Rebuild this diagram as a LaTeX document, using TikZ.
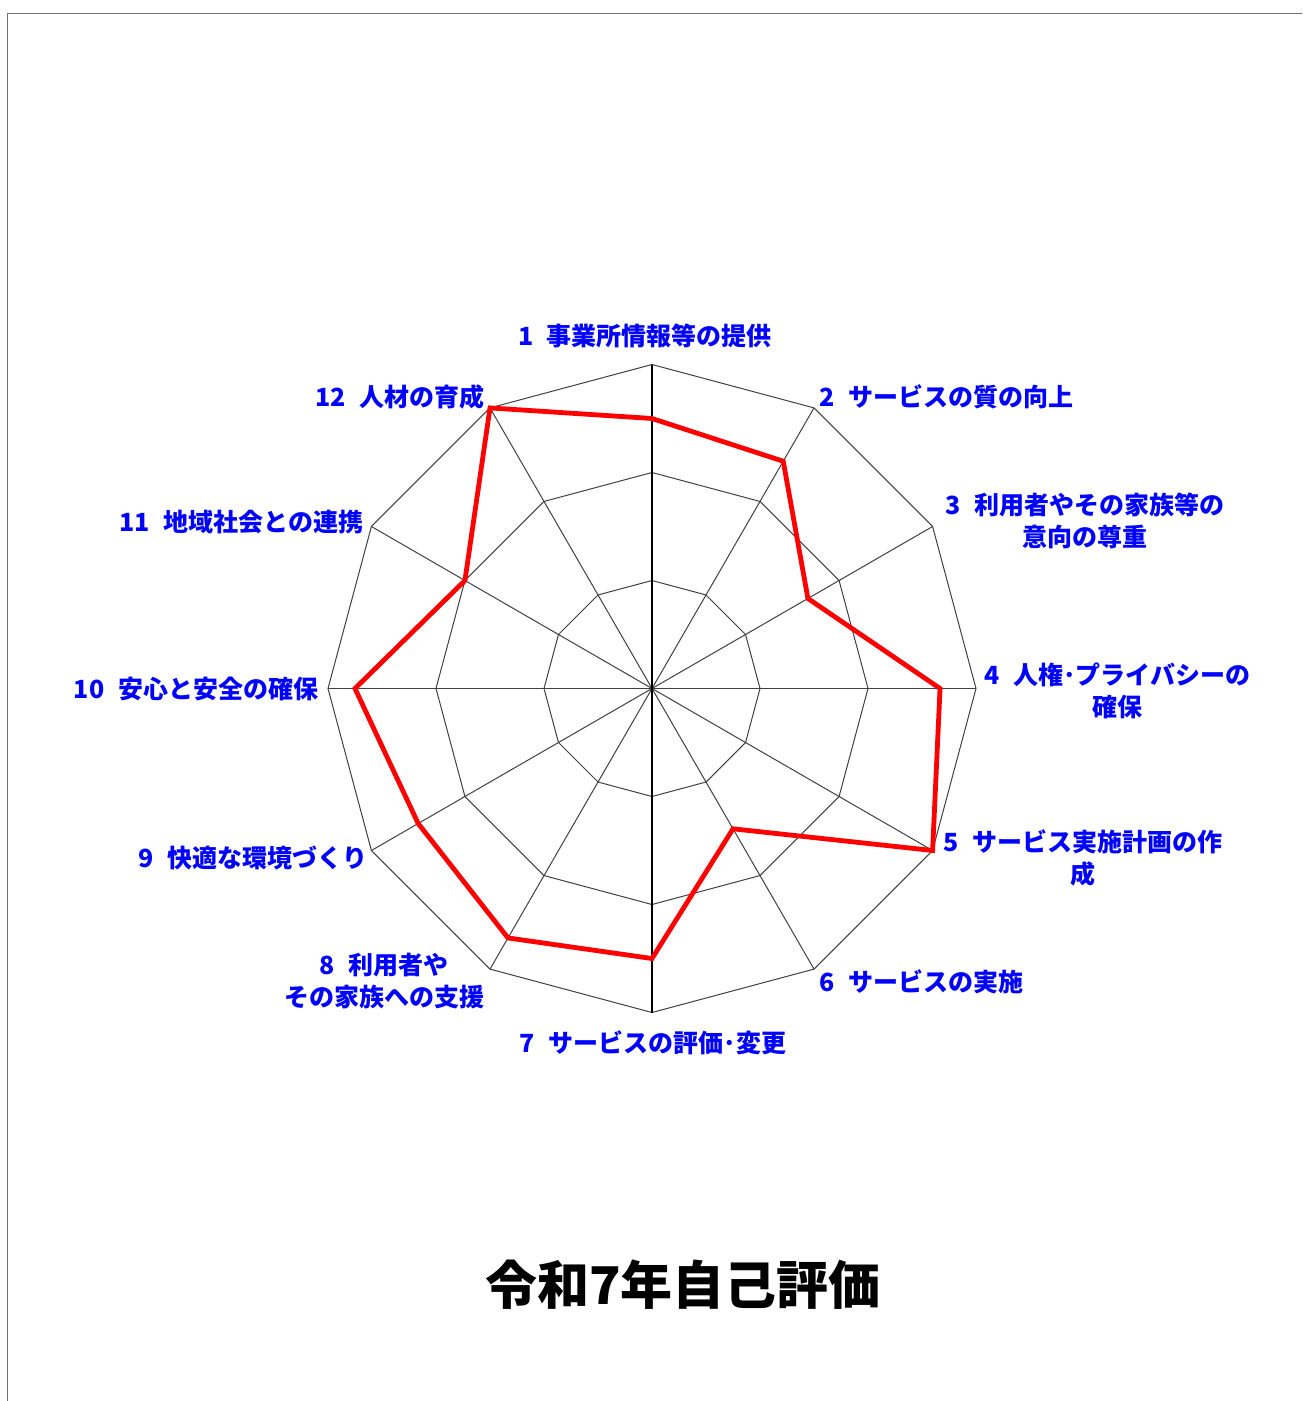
\documentclass[tikz,border=0pt]{standalone}
\usepackage{fontspec}
\newfontfamily\jp{Noto Sans CJK JP}
\begin{document}
\begin{tikzpicture}[x=0.75pt,y=-0.75pt,
  gridline/.style={draw=black!75,line width=0.75pt},
  axisline/.style={draw=black,line width=0.9pt},
  frameline/.style={draw=black!55,line width=1.2pt},
  lbl/.style={font=\jp\bfseries\fontsize{18.75pt}{24pt}\selectfont, text=blue, inner sep=0pt, align=center},
  ttl/.style={font=\jp\bfseries\fontsize{39pt}{44pt}\selectfont, text=black, inner sep=0pt},
  series/.style={draw=red, line width=3.6pt, line join=miter}]
\useasboundingbox (0,0) rectangle (1302,1401);
\coordinate (fbl) at (7.5,1401);
\coordinate (ftl) at (7.5,13.5);
\coordinate (ftr) at (1302,13.5);
\draw[frameline] (fbl) -- (ftl) -- (ftr);
\begin{scope}[shift={(652,688.5)}]
  \coordinate (C) at (0,0);
  \foreach \r in {108,216,324} {
    \draw[gridline] (-90:\r) \foreach \k in {1,...,11} { -- ({-90+30*\k}:\r) } -- cycle;
  }
  \foreach \k in {0,...,11} {
    \coordinate (o\k) at ({-90+30*\k}:324);
  }
  \foreach \k in {1,...,5,7,8,9,10,11} {
    \draw[gridline] (C) -- (o\k);
  }
  \draw[axisline] (o0) -- (C) -- (o6);
  \foreach \v [count=\k from 0] in {2.5,2.43,1.667,2.667,3,1.5,2.5,2.667,2.5,2.75,2,3} {
    \coordinate (p\k) at ({-90+30*\k}:{108*\v});
  }
  \draw[series] (p0) -- (p1) -- (p2) -- (p3) -- (p4) -- (p5) -- (p6) -- (p7) -- (p8) -- (p9) -- (p10) -- (p11) -- cycle;
\end{scope}
\node[lbl] (l1) at (645,336) {1\hspace{0.55em}事業所情報等の提供};
\node[lbl] (l2) at (946,397) {2\hspace{0.55em}サービスの質の向上};
\node[lbl] (l3) at (1085,521) {3\hspace{0.55em}利用者やその家族等の\\意向の尊重};
\node[lbl] (l4) at (1117,691) {4\hspace{0.55em}人権･プライバシーの\\確保};
\node[lbl] (l5) at (1083,858) {5\hspace{0.55em}サービス実施計画の作\\成};
\node[lbl] (l6) at (921,982) {6\hspace{0.55em}サービスの実施};
\node[lbl] (l7) at (653,1043) {7\hspace{0.55em}サービスの評価･変更};
\node[lbl] (l8) at (384,981) {8\hspace{0.55em}利用者や\\その家族への支援};
\node[lbl] (l9) at (253,858) {9\hspace{0.55em}快適な環境づくり};
\node[lbl] (l10) at (196,689) {10\hspace{0.55em}安心と安全の確保};
\node[lbl] (l11) at (241,522) {11\hspace{0.55em}地域社会との連携};
\node[lbl] (l12) at (400,397) {12\hspace{0.55em}人材の育成};
\node[ttl] (title) at (683,1285) {令和7年自己評価};
\end{tikzpicture}
\end{document}
